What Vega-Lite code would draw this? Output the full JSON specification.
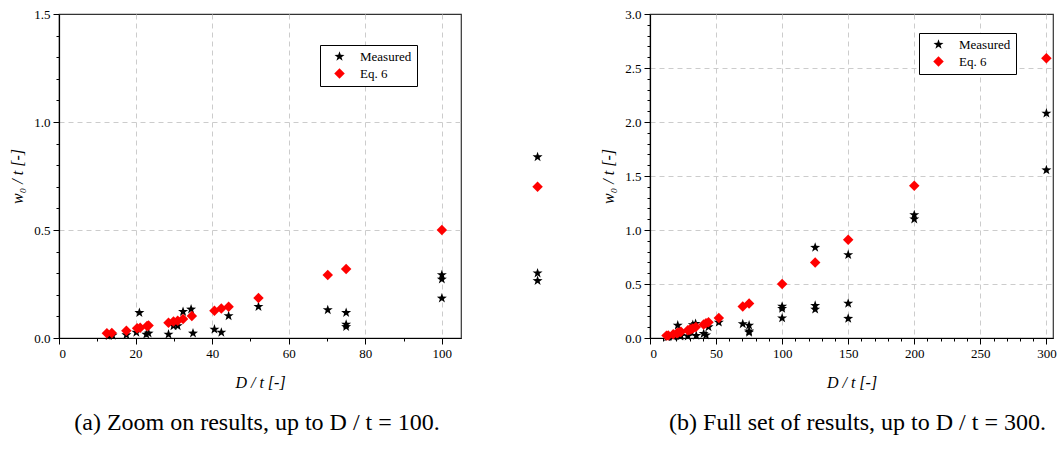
{
  "$schema": "https://vega.github.io/schema/vega-lite/v6.json",
  "background": "white",
  "padding": {"left": 9, "top": 7, "right": 0, "bottom": 0},
  "bounds": "flush",
  "spacing": 189,
  "datasets": {
    "pts": [
      {"x": 13, "y": 0.010, "series": "Measured"},
      {"x": 14, "y": 0.012, "series": "Measured"},
      {"x": 17.6, "y": 0.014, "series": "Measured"},
      {"x": 20.2, "y": 0.026, "series": "Measured"},
      {"x": 21, "y": 0.117, "series": "Measured"},
      {"x": 22.8, "y": 0.017, "series": "Measured"},
      {"x": 23.4, "y": 0.022, "series": "Measured"},
      {"x": 28.6, "y": 0.017, "series": "Measured"},
      {"x": 29.9, "y": 0.056, "series": "Measured"},
      {"x": 31, "y": 0.056, "series": "Measured"},
      {"x": 32.4, "y": 0.122, "series": "Measured"},
      {"x": 34.5, "y": 0.133, "series": "Measured"},
      {"x": 35, "y": 0.022, "series": "Measured"},
      {"x": 40.6, "y": 0.040, "series": "Measured"},
      {"x": 42.4, "y": 0.026, "series": "Measured"},
      {"x": 44.3, "y": 0.102, "series": "Measured"},
      {"x": 52.1, "y": 0.145, "series": "Measured"},
      {"x": 70.2, "y": 0.130, "series": "Measured"},
      {"x": 75, "y": 0.117, "series": "Measured"},
      {"x": 75, "y": 0.063, "series": "Measured"},
      {"x": 75, "y": 0.052, "series": "Measured"},
      {"x": 100, "y": 0.292, "series": "Measured"},
      {"x": 100, "y": 0.272, "series": "Measured"},
      {"x": 100, "y": 0.184, "series": "Measured"},
      {"x": 125, "y": 0.838, "series": "Measured"},
      {"x": 125, "y": 0.300, "series": "Measured"},
      {"x": 125, "y": 0.265, "series": "Measured"},
      {"x": 150, "y": 0.77, "series": "Measured"},
      {"x": 150, "y": 0.32, "series": "Measured"},
      {"x": 150, "y": 0.18, "series": "Measured"},
      {"x": 200, "y": 1.14, "series": "Measured"},
      {"x": 200, "y": 1.10, "series": "Measured"},
      {"x": 300, "y": 2.08, "series": "Measured"},
      {"x": 300, "y": 1.555, "series": "Measured"},
      {"x": 12.5, "y": 0.022, "series": "Eq. 6"},
      {"x": 13.8, "y": 0.023, "series": "Eq. 6"},
      {"x": 17.6, "y": 0.034, "series": "Eq. 6"},
      {"x": 20.4, "y": 0.045, "series": "Eq. 6"},
      {"x": 21.2, "y": 0.048, "series": "Eq. 6"},
      {"x": 23, "y": 0.056, "series": "Eq. 6"},
      {"x": 23.4, "y": 0.058, "series": "Eq. 6"},
      {"x": 28.6, "y": 0.071, "series": "Eq. 6"},
      {"x": 29.9, "y": 0.076, "series": "Eq. 6"},
      {"x": 31, "y": 0.080, "series": "Eq. 6"},
      {"x": 32.4, "y": 0.088, "series": "Eq. 6"},
      {"x": 34.7, "y": 0.102, "series": "Eq. 6"},
      {"x": 40.6, "y": 0.126, "series": "Eq. 6"},
      {"x": 42.4, "y": 0.137, "series": "Eq. 6"},
      {"x": 44.3, "y": 0.145, "series": "Eq. 6"},
      {"x": 52.1, "y": 0.185, "series": "Eq. 6"},
      {"x": 70.2, "y": 0.292, "series": "Eq. 6"},
      {"x": 75, "y": 0.319, "series": "Eq. 6"},
      {"x": 100, "y": 0.50, "series": "Eq. 6"},
      {"x": 125, "y": 0.70, "series": "Eq. 6"},
      {"x": 150, "y": 0.91, "series": "Eq. 6"},
      {"x": 200, "y": 1.41, "series": "Eq. 6"},
      {"x": 300, "y": 2.59, "series": "Eq. 6"}
    ]
  },
  "hconcat": [
    {
      "width": 402,
      "height": 324,
      "data": {"name": "pts"},
      "transform": [{"filter": "datum.x <= 130"}],
      "title": {"text": "(a) Zoom on results, up to D / t = 100.", "orient": "bottom", "anchor": "middle", "offset": 21, "dx": -3},
      "mark": {"type": "point", "filled": true, "opacity": 1, "size": 110, "strokeWidth": 0},
      "encoding": {
        "x": {
          "field": "x", "type": "quantitative",
          "scale": {"domain": [0, 105], "nice": false, "zero": false},
          "axis": {
            "title": "D / t [-]",
            "values": [0, 10, 20, 30, 40, 50, 60, 70, 80, 90, 100],
            "labelExpr": "datum.value % 20 === 0 ? datum.label : ''",
            "tickSize": {"condition": {"test": "datum.value % 20 === 0", "value": 6}, "value": 3},
            "gridOpacity": {"condition": {"test": "datum.value % 20 === 0", "value": 1}, "value": 0}
          }
        },
        "y": {
          "field": "y", "type": "quantitative",
          "scale": {"domain": [0, 1.5], "nice": false, "zero": false},
          "axis": {
            "title": "w₀ / t [-]",
            "values": [0, 0.1, 0.2, 0.3, 0.4, 0.5, 0.6, 0.7, 0.8, 0.9, 1.0, 1.1, 1.2, 1.3, 1.4, 1.5],
            "labelExpr": "round(datum.value*10) % 5 === 0 ? format(datum.value, '.1f') : ''",
            "tickSize": {"condition": {"test": "round(datum.value*10) % 5 === 0", "value": 6}, "value": 3},
            "gridOpacity": {"condition": {"test": "round(datum.value*10) % 5 === 0 && datum.value < 1.45", "value": 1}, "value": 0}
          }
        },
        "color": {
          "field": "series", "type": "nominal",
          "scale": {"domain": ["Measured", "Eq. 6"], "range": ["black", "red"]},
          "legend": {"orient": "none", "legendX": 261, "legendY": 31}
        },
        "shape": {
          "field": "series", "type": "nominal",
          "scale": {"domain": ["Measured", "Eq. 6"], "range": ["M0,-1L0.235,-0.324L0.951,-0.309L0.380,0.124L0.588,0.809L0,0.4L-0.588,0.809L-0.380,0.124L-0.951,-0.309L-0.235,-0.324Z", "diamond"]},
          "legend": {"orient": "none", "legendX": 261, "legendY": 31}
        }
      }
    },
    {
      "width": 403,
      "height": 324,
      "data": {"name": "pts"},
      "title": {"text": "(b) Full set of results, up to D / t = 300.", "orient": "bottom", "anchor": "middle", "offset": 21, "dx": 6},
      "mark": {"type": "point", "filled": true, "opacity": 1, "size": 110, "strokeWidth": 0},
      "encoding": {
        "x": {
          "field": "x", "type": "quantitative",
          "scale": {"domain": [0, 305], "nice": false, "zero": false},
          "axis": {
            "title": "D / t [-]",
            "values": [0, 10, 20, 30, 40, 50, 60, 70, 80, 90, 100, 110, 120, 130, 140, 150, 160, 170, 180, 190, 200, 210, 220, 230, 240, 250, 260, 270, 280, 290, 300],
            "labelExpr": "datum.value % 50 === 0 ? datum.label : ''",
            "tickSize": {"condition": {"test": "datum.value % 50 === 0", "value": 6}, "value": 3},
            "gridOpacity": {"condition": {"test": "datum.value % 50 === 0", "value": 1}, "value": 0}
          }
        },
        "y": {
          "field": "y", "type": "quantitative",
          "scale": {"domain": [0, 3], "nice": false, "zero": false},
          "axis": {
            "title": "w₀ / t [-]",
            "values": [0, 0.1, 0.2, 0.3, 0.4, 0.5, 0.6, 0.7, 0.8, 0.9, 1.0, 1.1, 1.2, 1.3, 1.4, 1.5, 1.6, 1.7, 1.8, 1.9, 2.0, 2.1, 2.2, 2.3, 2.4, 2.5, 2.6, 2.7, 2.8, 2.9, 3.0],
            "labelExpr": "round(datum.value*10) % 5 === 0 ? format(datum.value, '.1f') : ''",
            "tickSize": {"condition": {"test": "round(datum.value*10) % 5 === 0", "value": 6}, "value": 3},
            "gridOpacity": {"condition": {"test": "round(datum.value*10) % 5 === 0 && datum.value < 2.95", "value": 1}, "value": 0}
          }
        },
        "color": {
          "field": "series", "type": "nominal",
          "scale": {"domain": ["Measured", "Eq. 6"], "range": ["black", "red"]},
          "legend": {"orient": "none", "legendX": 269, "legendY": 19}
        },
        "shape": {
          "field": "series", "type": "nominal",
          "scale": {"domain": ["Measured", "Eq. 6"], "range": ["M0,-1L0.235,-0.324L0.951,-0.309L0.380,0.124L0.588,0.809L0,0.4L-0.588,0.809L-0.380,0.124L-0.951,-0.309L-0.235,-0.324Z", "diamond"]},
          "legend": {"orient": "none", "legendX": 269, "legendY": 19}
        }
      }
    }
  ],
  "resolve": {
    "scale": {"color": "independent", "shape": "independent", "x": "independent", "y": "independent"},
    "legend": {"color": "independent", "shape": "independent"}
  },
  "config": {
    "view": {"stroke": "#333333", "strokeWidth": 1.2},
    "font": "Times New Roman, Liberation Serif, serif",
    "axis": {
      "labelFont": "Times New Roman, Liberation Serif, serif",
      "labelFontSize": 13,
      "labelColor": "black",
      "labelPadding": 3,
      "titleFont": "Times New Roman, Liberation Serif, serif",
      "titleFontSize": 16,
      "titleFontStyle": "italic",
      "titleFontWeight": "normal",
      "titleColor": "black",
      "domainColor": "black",
      "domainWidth": 1.2,
      "tickColor": "black",
      "tickWidth": 1,
      "grid": true,
      "gridColor": "#cccccc",
      "gridDash": [5, 4],
      "gridWidth": 1
    },
    "axisX": {"titlePadding": 14},
    "axisY": {"titlePadding": 8},
    "title": {"font": "Times New Roman, Liberation Serif, serif", "fontSize": 24, "fontWeight": "normal", "color": "black"},
    "legend": {
      "title": null,
      "fillColor": "white",
      "strokeColor": "black",
      "padding": 5,
      "symbolOffset": 8,
      "labelOffset": 14,
      "labelFont": "Times New Roman, Liberation Serif, serif",
      "labelFontSize": 13,
      "labelColor": "black",
      "symbolSize": 110,
      "symbolStrokeWidth": 0,
      "rowPadding": 3
    }
  }
}
